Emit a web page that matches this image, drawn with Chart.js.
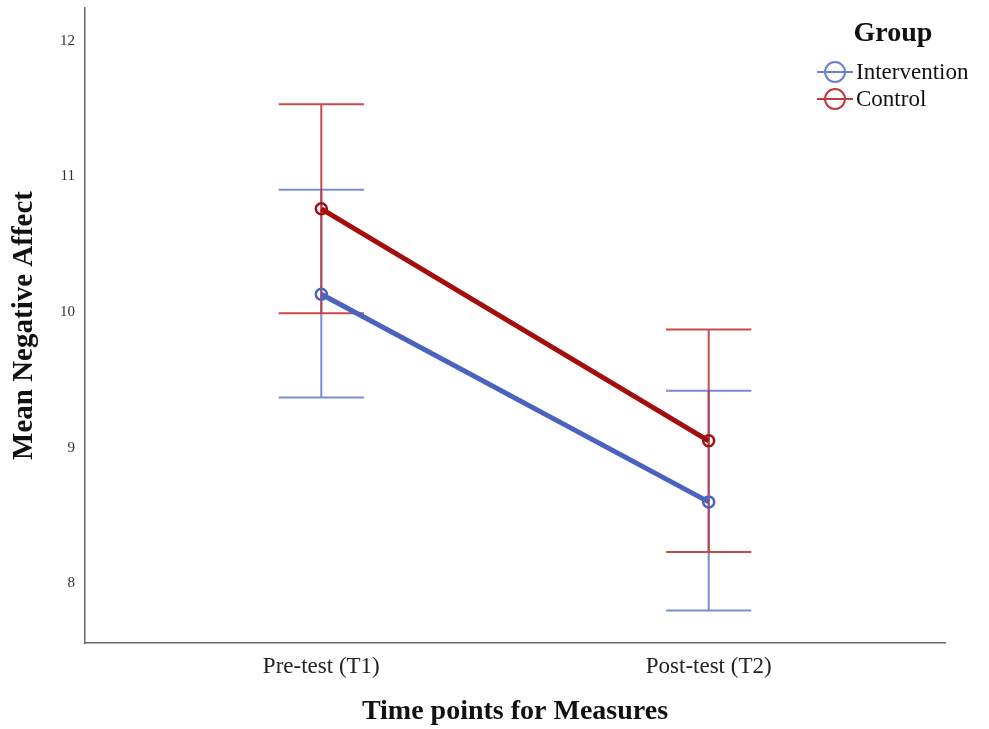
<!DOCTYPE html>
<html>
<head>
<meta charset="utf-8">
<script src="https://cdn.jsdelivr.net/npm/chart.js@4.4.1/dist/chart.umd.min.js"></script>
<style>
html,body{margin:0;padding:0;background:#fff;}
#wrap{width:989px;height:729px;position:relative;}
</style>
</head>
<body>
<div id="wrap"><canvas id="c" width="989" height="729"></canvas></div>
<script>
// ---- data ----
const categories = ["Pre-test (T1)", "Post-test (T2)"];
const seriesNames = ["Intervention", "Control"];
const interventionMean = [10.13, 8.60];
const interventionLow  = [9.37, 7.80];
const interventionHigh = [10.90, 9.42];
const controlMean = [10.76, 9.05];
const controlLow  = [9.99, 8.23];
const controlHigh = [11.53, 9.87];
const yTicks = [8, 9, 10, 11, 12];

const FONT = "'Liberation Serif', 'Times New Roman', serif";
const lineColors = ["#4a63bf", "#a30d0d"];
const barColors = ["#6b80cf", "#c0393b"];

const means = [interventionMean, controlMean];
const lows = [interventionLow, controlLow];
const highs = [interventionHigh, controlHigh];

const errorBarPlugin = {
  id: 'errorBars',
  beforeDatasetsDraw(chart) {
    const ctx = chart.ctx;
    const xs = chart.scales.x, ys = chart.scales.y;
    const capHalf = 0.11;
    [0, 1].forEach(si => {
      ctx.save();
      ctx.strokeStyle = barColors[si];
      ctx.lineWidth = 2;
      ctx.globalAlpha = 0.9;
      categories.forEach((cat, i) => {
        const xv = i + 1;
        const x = xs.getPixelForValue(xv);
        const yl = ys.getPixelForValue(lows[si][i]);
        const yh = ys.getPixelForValue(highs[si][i]);
        const xl = xs.getPixelForValue(xv - capHalf);
        const xr = xs.getPixelForValue(xv + capHalf);
        ctx.beginPath();
        ctx.moveTo(x, yl); ctx.lineTo(x, yh);
        ctx.moveTo(xl, yl); ctx.lineTo(xr, yl);
        ctx.moveTo(xl, yh); ctx.lineTo(xr, yh);
        ctx.stroke();
      });
      ctx.restore();
    });
  }
};

const legendPlugin = {
  id: 'customLegend',
  afterDraw(chart) {
    const ctx = chart.ctx;
    ctx.save();
    ctx.fillStyle = '#111';
    ctx.font = "bold 28px " + FONT;
    ctx.textAlign = 'center';
    ctx.textBaseline = 'middle';
    ctx.fillText("Group", 893, 34);
    ctx.font = "23px " + FONT;
    ctx.textAlign = 'left';
    seriesNames.forEach((name, i) => {
      const y = 72 + i * 27;
      ctx.strokeStyle = barColors[i];
      ctx.lineWidth = 2;
      ctx.beginPath();
      ctx.moveTo(817, y); ctx.lineTo(853, y);
      ctx.stroke();
      ctx.beginPath();
      ctx.arc(835, y, 10, 0, Math.PI * 2);
      ctx.stroke();
      ctx.fillStyle = '#111';
      ctx.fillText(name, 856, y + 1);
    });
    ctx.restore();
  }
};

const datasets = seriesNames.map((name, si) => ({
  label: name,
  data: means[si].map((v, i) => ({ x: i + 1, y: v })),
  borderColor: lineColors[si],
  backgroundColor: 'rgba(255,255,255,0)',
  borderWidth: 5,
  pointRadius: 5.5,
  pointBorderWidth: 2.5,
  pointBorderColor: lineColors[si],
  pointBackgroundColor: 'rgba(255,255,255,0)',
  pointStyle: 'circle',
  tension: 0,
  fill: false,
  order: 1 - si
}));

new Chart(document.getElementById('c'), {
  type: 'line',
  data: { datasets },
  plugins: [errorBarPlugin, legendPlugin],
  options: {
    responsive: false,
    animation: false,
    devicePixelRatio: 1,
    layout: { padding: { top: 8, right: 44, left: 0, bottom: 0 } },
    plugins: { legend: { display: false }, tooltip: { enabled: false } },
    scales: {
      x: {
        type: 'linear',
        min: 0.39, max: 2.61,
        afterBuildTicks: s => { s.ticks = categories.map((c, i) => ({ value: i + 1 })); },
        afterFit: s => { s.height = 86; s.paddingLeft = 0; s.paddingRight = 0; },
        ticks: {
          callback: v => categories[Math.round(v) - 1],
          font: { family: FONT, size: 23 },
          color: '#222',
          padding: 10,
          maxRotation: 0,
          autoSkip: false
        },
        grid: { display: false, drawTicks: false },
        border: { display: true, color: '#666', width: 1.5 },
        title: {
          display: true,
          text: 'Time points for Measures',
          font: { family: FONT, size: 28, weight: 'bold' },
          color: '#111',
          padding: { top: 12, bottom: 0 }
        }
      },
      y: {
        type: 'linear',
        min: 7.56, max: 12.24,
        afterBuildTicks: s => { s.ticks = yTicks.map(v => ({ value: v })); },
        afterFit: s => { s.width = 85; s.paddingTop = 0; s.paddingBottom = 0; },
        ticks: {
          font: { family: FONT, size: 15 },
          color: '#333',
          padding: 10
        },
        grid: { display: false, drawTicks: false },
        border: { display: true, color: '#666', width: 1.5 },
        title: {
          display: true,
          text: 'Mean Negative Affect',
          font: { family: FONT, size: 29, weight: 'bold' },
          color: '#111',
          padding: { top: 7, bottom: 0 }
        }
      }
    }
  }
});
</script>
</body>
</html>
